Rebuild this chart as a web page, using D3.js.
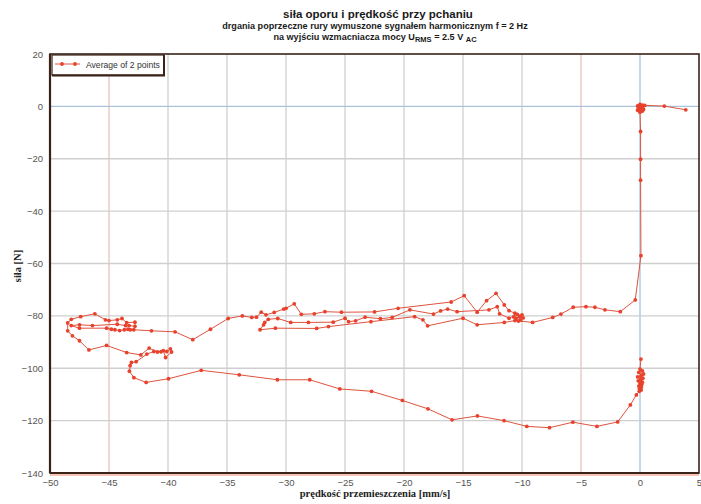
<!DOCTYPE html>
<html><head><meta charset="utf-8">
<script src="https://cdn.jsdelivr.net/npm/d3@7/dist/d3.min.js"></script>
<style>body{margin:0;background:#fff;} svg{display:block;}</style>
</head><body>
<script>
// ---- data (velocity [mm/s], force [N]) in recorded order ----
const velocity = [
 0.08,0.0,0.2,-0.1,0.3,0.1,-0.2,0.25,0.05,-0.15,0.2,0.0,0.15,-0.1,0.1,-0.05,0.1,
 -0.06,-0.31,-0.82,-1.89,-3.65,-5.69,-7.67,-9.59,-11.52,-13.78,-15.93,-17.97,-20.14,-22.75,-25.44,-27.99,-30.73,-33.96,-37.18,-39.96,-41.85,-42.89,-43.27,-43.21,-43.10,-42.70,-41.79,
 -41.2,-40.6,-40.1,-39.8,-39.7,-40.2,-40.4,-40.9,-41.6,
 -42.3,-43.5,-45.2,-46.7,-47.5,-48.1,-48.5,
 -48.5,-48.2,-47.4,-46.2,-45.3,-45.0,-44.3,-43.9,-43.5,-42.8,-42.8,-43.3,-43.6,-44.3,-46.4,-47.5,-48.2,-47.5,-45.2,-44.8,-44.5,-44.1,-43.7,-43.4,-43.2,-42.9,-41.4,-39.4,-37.9,-36.4,-34.9,-33.7,-32.9,-32.5,
 -32.1,-31.7,-31.0,-30.2,-30.0,-29.3,-28.7,-27.6,-26.7,-25.3,-22.5,-20.5,-16.0,-14.9,-13.8,-13.0,-12.2,-11.5,-11.1,
 -10.6,-10.2,-10.5,-10.0,-10.3,-9.9,-10.7,-10.1,-10.4,
 -11.1,-11.9,-12.1,-12.8,-15.5,-16.3,-16.9,-17.5,-19.5,-21.0,-22.0,-23.3,-24.1,-24.7,-25.0,-26.0,-28.1,-29.6,-30.7,-31.5,-31.8,-31.9,-32.2,
 -30.9,-27.4,-26.4,-22.8,-19.1,-18.4,-18.0,-15.0,-13.8,-11.5,-10.6,-9.1,-7.4,-6.7,-5.66,-4.58,-3.82,-2.97,-1.67,-0.40,0.08,0.05,0.05,0.05,
 0.0,-0.2,0.2,-0.1,0.3,0.1,-0.2,0.2,0.0,-0.15,0.25,0.1,0.4,
 2.06,3.88
];
const force = [
 -96.5,-100.3,-101.0,-101.6,-102.2,-102.8,-103.3,-103.8,-104.3,-104.8,-105.3,-105.8,-106.3,-106.8,-107.3,-107.8,-108.3,
 -108.8,-110.2,-114.0,-120.5,-122.2,-120.6,-122.7,-122.2,-120.0,-118.2,-119.7,-115.5,-112.3,-108.8,-107.9,-104.4,-104.4,-102.5,-100.8,-104.0,-105.4,-103.6,-101.1,-99.0,-97.8,-97.5,-94.6,
 -93.6,-93.7,-93.6,-92.6,-93.8,-95.9,-93.3,-93.8,-92.3,
 -94.9,-94.0,-91.3,-93.0,-89.5,-87.6,-85.7,
 -82.7,-81.3,-80.3,-79.2,-81.5,-81.8,-81.5,-81.0,-82.6,-82.4,-84.0,-83.7,-83.7,-83.2,-83.7,-83.4,-83.7,-84.7,-84.7,-85.1,-85.3,-85.6,-85.3,-85.1,-85.3,-85.3,-85.7,-86.1,-89.1,-85.1,-81.0,-80.0,-80.6,-80.5,
 -78.6,-79.6,-78.7,-77.4,-77.1,-75.4,-79.4,-79.2,-78.4,-78.6,-78.5,-77.1,-74.7,-72.3,-78.6,-74.2,-71.4,-75.8,-78.0,
 -79.0,-80.2,-81.0,-79.6,-82.0,-80.8,-80.4,-81.6,-79.4,
 -80.9,-79.2,-76.5,-77.7,-78.4,-77.4,-78.1,-79.3,-77.7,-80.6,-81.1,-80.5,-81.9,-82.2,-80.9,-82.4,-82.5,-82.5,-81.0,-81.3,-82.5,-83.4,-85.3,
 -84.7,-84.8,-84.1,-82.2,-80.3,-81.5,-83.8,-80.9,-83.4,-82.5,-81.8,-82.5,-80.6,-79.3,-76.7,-76.5,-76.7,-77.7,-78.4,-73.9,-57.0,-28.2,-20.2,-9.6,
 -2.2,-1.5,-1.8,-0.8,-1.2,-0.3,0.2,0.5,0.8,-0.5,0.0,-1.0,0.4,
 0.1,-1.3
];
const xTicks = [-50,-45,-40,-35,-30,-25,-20,-15,-10,-5,0,5];
const yTicks = [20,0,-20,-40,-60,-80,-100,-120,-140];
const seriesName = "Average of 2 points";
const titleMain = "siła oporu i prędkość przy pchaniu";
const titleSub = "drgania poprzeczne rury wymuszone sygnałem harmonicznym f = 2 Hz";
const xLabel = "prędkość przemieszczenia [mm/s]";
const yLabel = "siła [N]";

const W = 701, H = 504;
const L = 50, R = 699, T = 54, B = 473;
const svg = d3.select("body").append("svg").attr("width", W).attr("height", H);

const x = d3.scaleLinear().domain([-50, 5]).range([L, R]);
const y = d3.scaleLinear().domain([-140, 20]).range([B, T]);

// grid
const g = svg.append("g");
xTicks.filter(v => v > -50 && v < 5).forEach(v => {
  let c = "#cfcfcf";
  if (v === 0) c = "#a9c3da";
  if (v === -45 || v === -5) c = "#e3c3c0";
  g.append("line").attr("x1", x(v)).attr("x2", x(v)).attr("y1", T).attr("y2", B)
   .attr("stroke", c).attr("stroke-width", 1.3);
});
yTicks.filter(v => v < 20 && v > -140).forEach(v => {
  const c = v === 0 ? "#a9c3da" : "#cfcfcf";
  g.append("line").attr("x1", L).attr("x2", R).attr("y1", y(v)).attr("y2", y(v))
   .attr("stroke", c).attr("stroke-width", 1.3);
});

// axes (labels only)
const xAxis = d3.axisBottom(x).tickValues(xTicks).tickSize(0).tickPadding(6).tickFormat(d3.format("d"));
const yAxis = d3.axisLeft(y).tickValues(yTicks).tickSize(0).tickPadding(6).tickFormat(d3.format("d"));
const gx = svg.append("g").attr("transform", `translate(0,${B})`).call(xAxis);
const gy = svg.append("g").attr("transform", `translate(${L},0)`).call(yAxis);
[gx, gy].forEach(a => {
  a.select(".domain").remove();
  a.selectAll("text").attr("font-family", "Arial, 'Liberation Sans', sans-serif")
   .attr("font-size", 9.5).attr("fill", "#555");
});
gy.selectAll("text").attr("dx", -1);

// data
const pts = velocity.map((v, i) => [v, force[i]]);
const line = d3.line().x(d => x(d[0])).y(d => y(d[1]));
svg.append("path").datum(pts).attr("d", line).attr("fill", "none")
  .attr("stroke", "#e0533f").attr("stroke-width", 1);
svg.append("g").selectAll("circle").data(pts).join("circle")
  .attr("cx", d => x(d[0])).attr("cy", d => y(d[1])).attr("r", 1.9)
  .attr("fill", "#e8412c");

// frame
svg.append("line").attr("x1", L).attr("x2", R).attr("y1", B + 2).attr("y2", B + 2)
  .attr("stroke", "#f08a6a").attr("stroke-width", 1);
svg.append("rect").attr("x", L).attr("y", T).attr("width", R - L).attr("height", B - T)
  .attr("fill", "none").attr("stroke", "#3a2218").attr("stroke-width", 1.6);
svg.append("line").attr("x1", L).attr("x2", L).attr("y1", T).attr("y2", B)
  .attr("stroke", "#3a2218").attr("stroke-width", 2.2);
svg.append("line").attr("x1", L).attr("x2", R).attr("y1", B).attr("y2", B)
  .attr("stroke", "#3a2218").attr("stroke-width", 2.2);

// legend
const lg = svg.append("g");
lg.append("rect").attr("x", 52).attr("y", 55).attr("width", 112).attr("height", 20)
  .attr("fill", "#fff").attr("stroke", "#3a2218").attr("stroke-width", 1.2);
lg.append("line").attr("x1", 164).attr("x2", 164).attr("y1", 55).attr("y2", 76)
  .attr("stroke", "#3a2218").attr("stroke-width", 2);
lg.append("line").attr("x1", 52).attr("x2", 165).attr("y1", 75.5).attr("y2", 75.5)
  .attr("stroke", "#3a2218").attr("stroke-width", 2);
lg.append("line").attr("x1", 55).attr("x2", 80).attr("y1", 64).attr("y2", 64)
  .attr("stroke", "#e0533f").attr("stroke-width", 1);
[62, 75].forEach(cx => lg.append("circle").attr("cx", cx).attr("cy", 64).attr("r", 1.9).attr("fill", "#e8412c"));
lg.append("text").attr("x", 86).attr("y", 67.5).text(seriesName)
  .attr("font-family", "Arial, 'Liberation Sans', sans-serif").attr("font-size", 8.6).attr("fill", "#333");

// titles
const tf = "Arial, 'Liberation Sans', sans-serif";
svg.append("text").attr("x", 378).attr("y", 18).attr("text-anchor", "middle")
  .attr("font-family", tf).attr("font-weight", "bold").attr("font-size", 11.5).attr("fill", "#1a1a1a").text(titleMain);
svg.append("text").attr("x", 375).attr("y", 29).attr("text-anchor", "middle")
  .attr("font-family", tf).attr("font-weight", "bold").attr("font-size", 9.1).attr("fill", "#1a1a1a").text(titleSub);
const t3 = svg.append("text").attr("x", 375).attr("y", 40).attr("text-anchor", "middle")
  .attr("font-family", tf).attr("font-weight", "bold").attr("font-size", 9.1).attr("fill", "#1a1a1a");
t3.append("tspan").text("na wyjściu wzmacniacza mocy U");
t3.append("tspan").attr("dy", 2).attr("font-size", 7.5).text("RMS");
t3.append("tspan").attr("dy", -2).text(" = 2.5 V ");
t3.append("tspan").attr("dy", 2).attr("font-size", 7.5).text("AC");

// axis titles
svg.append("text").attr("x", 375).attr("y", 497).attr("text-anchor", "middle")
  .attr("font-family", "'Liberation Serif', 'Times New Roman', serif").attr("font-weight", "bold")
  .attr("font-size", 10.5).attr("fill", "#222").text(xLabel);
svg.append("text").attr("transform", "translate(21,266) rotate(-90)").attr("text-anchor", "middle")
  .attr("font-family", "'Liberation Serif', 'Times New Roman', serif").attr("font-weight", "bold")
  .attr("font-size", 10.5).attr("fill", "#222").text(yLabel);
</script>
</body></html>
